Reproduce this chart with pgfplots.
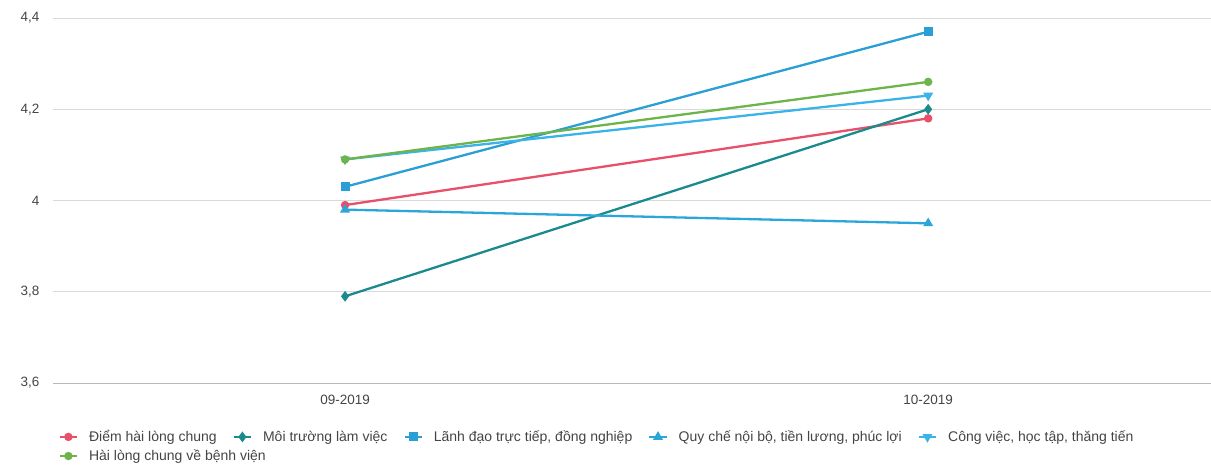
\documentclass[border=0pt]{standalone}
\usepackage{fontspec}
\setmainfont{Liberation Sans}
\usepackage{pgfplots}
\pgfplotsset{compat=1.18}

\definecolor{cRed}{HTML}{E8506A}
\definecolor{cTeal}{HTML}{1A8A8C}
\definecolor{cBlue}{HTML}{2A9FD6}
\definecolor{cBlueB}{HTML}{2AA6DA}
\definecolor{cSky}{HTML}{3BB3E8}
\definecolor{cGreen}{HTML}{6DB44A}
\definecolor{cGrid}{HTML}{D9D9D9}
\definecolor{cText}{HTML}{444444}

\begin{document}
\fontsize{14}{16}\selectfont
\begin{tikzpicture}
\path[use as bounding box] (-53.5pt,-83pt) rectangle (1157.5pt,383pt);
\begin{axis}[
  anchor=south west, at={(0pt,0pt)},
  scale only axis,
  width=1157.5pt, height=365pt,
  xmin=-0.5, xmax=1.485,
  ymin=3.6, ymax=4.4,
  ytick={3.6,3.8,4,4.2,4.4},
  xtick={0,1},
  xticklabels={09-2019,10-2019},
  extra x ticks={0.5},
  extra x tick labels={},
  extra x tick style={major tick length=7pt, tick style={cGrid!80!black, line width=0.6pt}},
  major x tick style={draw=none},
  /pgf/number format/use comma,
  /pgf/number format/assume math mode=true,
  ticklabel style={font=\fontsize{13.5}{15}\selectfont, text=cText},
  yticklabel style={xshift=-5pt},
  xticklabel style={yshift=-3pt},
  axis line style={draw=none},
  axis x line*=bottom,
  x axis line style={draw=cGrid!85!black, line width=0.6pt},
  y axis line style={draw=none},
  ymajorgrids,
  grid style={cGrid, line width=0.6pt},
  major y tick style={draw=none},
  tick align=outside,
  every axis plot/.append style={line width=2.3pt, mark size=3pt},
  legend columns=5,
  legend style={
    at={(axis description cs:0,0)}, anchor=north west,
    xshift=2pt, yshift=-43pt,
    draw=none, fill=none,
    font=\fontsize{14}{16}\selectfont, text=cText,
    /tikz/every odd column/.append style={column sep=9pt},
    /tikz/every even column/.append style={column sep=14pt},
    row sep=2pt,
  },
  legend cell align=left,
]
% Điểm hài lòng chung
\addplot[cRed, mark=*] coordinates {(0,3.99) (1,4.18)};
\addlegendentry{Điểm hài lòng chung}
% Môi trường làm việc
\addplot[cTeal, mark=diamond*, mark size=3.5pt] coordinates {(0,3.79) (1,4.20)};
\addlegendentry{Môi trường làm việc}
% Lãnh đạo trực tiếp, đồng nghiệp
\addplot[cBlue, mark=square*, mark size=3.3pt] coordinates {(0,4.03) (1,4.37)};
\addlegendentry{Lãnh đạo trực tiếp, đồng nghiệp}
% Quy chế nội bộ, tiền lương, phúc lợi
\addplot[cBlueB, mark=triangle*, mark size=3.5pt] coordinates {(0,3.98) (1,3.95)};
\addlegendentry{Quy chế nội bộ, tiền lương, phúc lợi}
% Công việc, học tập, thăng tiến
\addplot[cSky, mark=triangle*, mark options={rotate=180}, mark size=3.5pt] coordinates {(0,4.09) (1,4.23)};
\addlegendentry{Công việc, học tập, thăng tiến}
% Hài lòng chung về bệnh viện
\addplot[cGreen, mark=*] coordinates {(0,4.09) (1,4.26)};
\addlegendentry{\makebox[0pt][l]{Hài lòng chung về bệnh viện}}
\end{axis}
\end{tikzpicture}
\end{document}
